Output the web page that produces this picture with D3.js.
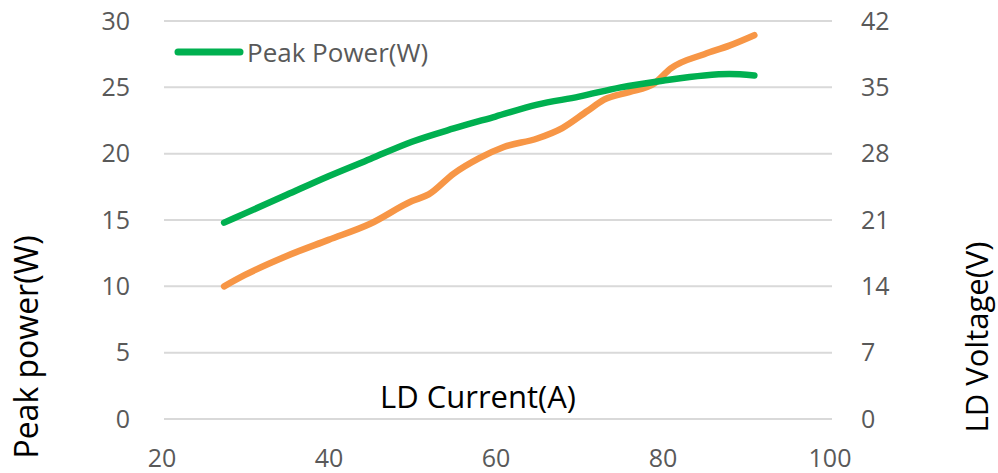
<!DOCTYPE html>
<html>
<head>
<meta charset="utf-8">
<script src="https://cdn.jsdelivr.net/npm/d3@7"></script>
<style>
	body { margin: 0; background: #fff; }
	svg text { font-family: 'Open Sans', sans-serif; }
</style>
</head>
<body>
<svg id="chart" width="998" height="473"></svg>
<script>
// LD current (A) and peak power (W)
const powerCurrent = [27.5, 30, 35, 40, 45, 50, 55, 60, 65, 70, 75, 80, 85, 88, 91]
const peakPower = [14.8, 15.5, 16.9, 18.3, 19.6, 20.9, 21.9, 22.8, 23.7, 24.3, 25.0, 25.5, 25.9, 26.0, 25.9]

// LD current (A) and LD voltage (V)
const voltageCurrent = [27.5, 30, 35, 40, 45, 50, 52, 55, 58, 61, 65, 68, 71, 73, 76, 79, 81, 85, 88, 91]
const ldVoltage = [14.0, 15.2, 17.2, 18.9, 20.6, 23.0, 23.7, 25.9, 27.5, 28.7, 29.6, 30.7, 32.5, 33.7, 34.5, 35.4, 37.0, 38.5, 39.4, 40.5]

const xTicks = [20, 40, 60, 80, 100]
const leftTicks = [0, 5, 10, 15, 20, 25, 30]
const rightTicks = [0, 7, 14, 21, 28, 35, 42]

const svg = d3.select('#chart')
const x = d3.scaleLinear().domain([20, 100]).range([161.5, 829.5])
const yL = d3.scaleLinear().domain([0, 30]).range([419, 21])
const yR = d3.scaleLinear().domain([0, 42]).range([419, 21])

// grid
svg.append('g')
	.selectAll('line')
	.data(leftTicks)
	.enter()
	.append('line')
	.attr('x1', 164)
	.attr('x2', 832)
	.attr('y1', d => yL(d))
	.attr('y2', d => yL(d))
	.attr('stroke', '#d9d9d9')
	.attr('stroke-width', 2)

const tickStyle = g => {
	g.select('.domain').remove()
	g.selectAll('.tick line').remove()
	g.selectAll('.tick text')
		.attr('fill', '#595959')
		.style('font-size', '25px')
}

svg.append('g')
	.attr('transform', 'translate(130,0)')
	.call(d3.axisLeft(yL).tickValues(leftTicks).tickSize(0).tickPadding(0))
	.call(tickStyle)

svg.append('g')
	.attr('transform', 'translate(861,0)')
	.call(d3.axisRight(yR).tickValues(rightTicks).tickSize(0).tickPadding(0))
	.call(tickStyle)

svg.append('g')
	.attr('transform', 'translate(0,449)')
	.call(d3.axisBottom(x).tickValues(xTicks).tickSize(0).tickPadding(0))
	.call(tickStyle)

const line = (xs, ys, yScale) =>
	d3.line()
		.x((d, i) => x(xs[i]))
		.y(d => yScale(d))
		.curve(d3.curveMonotoneX)(ys)

svg.append('path')
	.attr('d', line(voltageCurrent, ldVoltage, yR))
	.attr('fill', 'none')
	.attr('stroke', '#f79646')
	.attr('stroke-width', 6.5)
	.attr('stroke-linecap', 'round')
	.attr('stroke-linejoin', 'round')

svg.append('path')
	.attr('d', line(powerCurrent, peakPower, yL))
	.attr('fill', 'none')
	.attr('stroke', '#00b050')
	.attr('stroke-width', 6.5)
	.attr('stroke-linecap', 'round')
	.attr('stroke-linejoin', 'round')

// legend
svg.append('line')
	.attr('x1', 178)
	.attr('x2', 240)
	.attr('y1', 52)
	.attr('y2', 52)
	.attr('stroke', '#00b050')
	.attr('stroke-width', 7)
	.attr('stroke-linecap', 'round')
svg.append('text')
	.attr('x', 247)
	.attr('y', 62)
	.attr('fill', '#595959')
	.style('font-size', '26px')
	.text('Peak Power(W)')

// axis titles
svg.append('text')
	.attr('x', 478)
	.attr('y', 408)
	.attr('text-anchor', 'middle')
	.attr('fill', '#000')
	.style('font-size', '31px')
	.text('LD Current(A)')

svg.append('text')
	.attr('transform', 'translate(38,347) rotate(-90)')
	.attr('text-anchor', 'middle')
	.attr('fill', '#000')
	.style('font-size', '32px')
	.text('Peak power(W)')

svg.append('text')
	.attr('transform', 'translate(988,337) rotate(-90)')
	.attr('text-anchor', 'middle')
	.attr('fill', '#000')
	.style('font-size', '31px')
	.text('LD Voltage(V)')
</script>
</body>
</html>
